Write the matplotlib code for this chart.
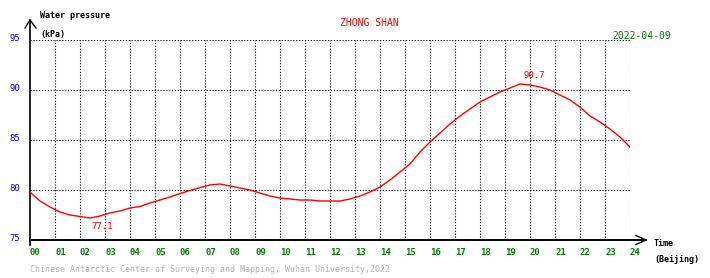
import matplotlib
matplotlib.use("Agg")
import matplotlib.pyplot as plt
from matplotlib.transforms import ScaledTranslation
import numpy as np

# ---- data ----
hours = [i * 0.4 for i in range(61)]
pressure = [79.8, 78.9, 78.3, 77.8, 77.5, 77.35, 77.2, 77.4, 77.7, 77.9,
            78.2, 78.35, 78.7, 79.0, 79.3, 79.65, 79.95, 80.25, 80.5, 80.6,
            80.4, 80.2, 80.0, 79.7, 79.4, 79.2, 79.1, 79.0, 79.0, 78.9,
            78.9, 78.9, 79.1, 79.4, 79.8, 80.3, 81.0, 81.8, 82.6, 83.8,
            84.8, 85.7, 86.6, 87.4, 88.1, 88.8, 89.3, 89.8, 90.2, 90.6,
            90.5, 90.3, 90.0, 89.5, 89.0, 88.3, 87.4, 86.8, 86.1, 85.3, 84.3]
x_ticks = list(range(25))
x_labels = ["%02d" % h for h in x_ticks]
y_ticks = [75, 80, 85, 90, 95]
y_labels = [str(v) for v in y_ticks]
min_label = ("77.1", 2.9, 77.1)
max_label = ("90.7", 20.15, 90.7)
title = "ZHONG SHAN"
date = "2022-04-09"
footer = "Chinese Antarctic Center of Surveying and Mapping, Wuhan University,2022"

W, H = 710, 278
fig = plt.figure(figsize=(W / 100, H / 100), dpi=100)
fig.patch.set_facecolor("white")

def fx(px):
    return px / W

def fy(py):
    return 1 - py / H

ax = fig.add_axes([fx(30), fy(240), 600 / W, 200 / H])
ax.set_xlim(0, 24)
ax.set_ylim(75, 95)
for s in ax.spines.values():
    s.set_visible(False)
ax.set_facecolor("white")

mono = "DejaVu Sans Mono"

# grid
dot = dict(color="black", lw=0.8, linestyle=(0, (1, 1.6)))
for v in [80, 85, 90, 95]:
    ax.plot([0, 24], [v, v], **dot, zorder=1)
for h in range(1, 25):
    ax.plot([h, h], [75, 95], **dot, zorder=1)

# axes lines and arrows
ax.plot([0, 24.64], [75, 75], color="black", lw=1.4, clip_on=False, zorder=3)
ax.plot([0, 0], [74.5, 97.0], color="black", lw=1.2, clip_on=False, zorder=3)
ax.plot([-0.2, 0, 0.24], [96.2, 97.0, 96.2], color="black", lw=1.0, clip_on=False, zorder=3)
ax.plot([24.24, 24.64, 24.24], [75.45, 75, 74.55], color="black", lw=1.0, clip_on=False, zorder=3)

# ticks
ax.set_xticks(x_ticks)
ax.set_xticklabels(x_labels, fontfamily=mono, fontsize=6.5, fontweight="bold", color="#008000")
for lab in ax.get_xticklabels():
    lab.set_horizontalalignment("left")
ax.set_yticks(y_ticks)
ax.set_yticklabels(y_labels, fontfamily=mono, fontsize=6.5, color="#0000ff")
ax.tick_params(axis="x", length=0, pad=5.5)
ax.tick_params(axis="y", length=0, pad=7)
shift = ScaledTranslation(0, 2.5 / 100, fig.dpi_scale_trans)
for lab in ax.get_yticklabels():
    lab.set_transform(lab.get_transform() + shift)

# data
ax.plot(hours, pressure, color="#ff0000", lw=1.0, zorder=4)
ax.text(min_label[1], min_label[2] - 0.3, min_label[0], color="#ff0000", fontsize=6.5,
        fontfamily=mono, ha="center", va="top")
ax.text(max_label[1], max_label[2] + 0.35, max_label[0], color="#ff0000", fontsize=6.5,
        fontfamily=mono, ha="center", va="bottom")

# texts
fig.text(fx(40), fy(16), "Water pressure", fontfamily=mono, fontsize=6, fontweight="bold", va="center", ha="left")
fig.text(fx(40), fy(34), "(kPa)", fontfamily=mono, fontsize=6, fontweight="bold", va="center", ha="left")
fig.text(fx(654), fy(244), "Time", fontfamily=mono, fontsize=6, fontweight="bold", va="center", ha="left")
fig.text(fx(654), fy(260), "(Beijing)", fontfamily=mono, fontsize=6, fontweight="bold", va="center", ha="left")
fig.text(fx(369), fy(23), title, fontfamily=mono, fontsize=7, color="#ff0000", va="center", ha="center")
fig.text(fx(612), fy(36), date, fontfamily=mono, fontsize=7, color="#008000", va="center", ha="left")
fig.text(fx(30), fy(270), footer, fontfamily=mono, fontsize=6, color="#b4b4b4", va="center", ha="left")

fig.savefig("out.png", dpi=100, facecolor="white")
